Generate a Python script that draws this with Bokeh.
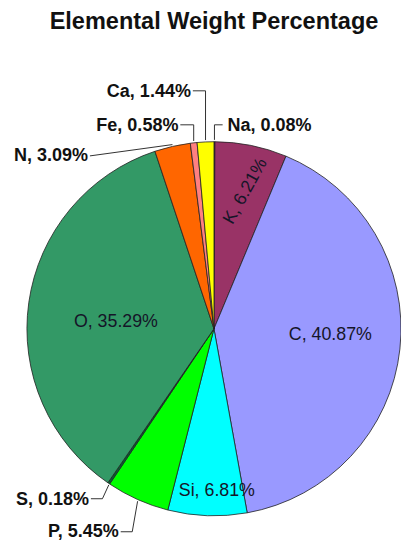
import math
from bokeh.plotting import figure
from bokeh.models import Range1d
from bokeh.core.properties import value
from bokeh.embed import file_html
from bokeh.resources import INLINE

# ---- data ----
elements = ["Na", "K", "C", "Si", "P", "S", "O", "N", "Fe", "Ca"]
percents = [0.08, 6.21, 40.87, 6.81, 5.45, 0.18, 35.29, 3.09, 0.58, 1.44]
colors = ["#660066", "#993366", "#9999FF", "#00FFFF", "#00FF00",
          "#006633", "#339966", "#FF6600", "#FF8080", "#FFFF00"]
title_text = "Elemental Weight Percentage"

# ---- layout (reference pixel coordinates; y grows downward) ----
W, H = 401, 540
REF_W, REF_H = 417, 556
CX, CY, R = 222, 338, 194.5

def Y(iy):
    return REF_H - iy

# inside labels: x, y, rotation (deg)
inside = {"K": (254, 196, 61), "C": (343, 343, 0), "O": (120, 330, 0), "Si": (225, 504, 0)}
# outside labels: text anchor x, y, align, elbow points
outside = {
    "Na": (236, 128, "left", [(231, 128)]),
    "Ca": (198, 93, "right", [(200, 93)]),
    "Fe": (185, 128, "right", [(187, 128)]),
    "N":  (91, 159, "right", [(93, 160)]),
    "S":  (92, 513, "right", [(94, 513), (106, 513)]),
    "P":  (123, 546, "right", [(125, 547), (137, 547)]),
}

labels = [f"{e}, {v:.2f}%" for e, v in zip(elements, percents)]
total = sum(percents)
starts, ends, mids = [], [], []
cum = 0.0
for v in percents:
    a0 = cum / total
    cum += v
    a1 = cum / total
    starts.append(math.pi / 2 - 2 * math.pi * a0)
    ends.append(math.pi / 2 - 2 * math.pi * a1)
    mids.append(math.pi / 2 - 2 * math.pi * (a0 + a1) / 2)

p = figure(width=W, height=H, output_backend="svg", toolbar_location=None,
           x_range=Range1d(0, REF_W), y_range=Range1d(0, REF_H),
           min_border=0)
p.axis.visible = False
p.grid.visible = False
p.outline_line_color = None
p.background_fill_color = "white"

# leader lines (drawn below pie)
for i, e in enumerate(elements):
    if e in outside:
        tx, ty, al, elbows = outside[e]
        ex = CX + R * math.cos(mids[i])
        ey = CY - R * math.sin(mids[i])
        if e in ("Na", "Ca", "Fe"):
            pts = [elbows[0], (ex, elbows[0][1]), (ex, ey)]
        else:
            pts = list(elbows) + [(ex, ey)]
        p.line([q[0] for q in pts], [Y(q[1]) for q in pts], line_color="#333333", line_width=1)

p.wedge(x=CX, y=Y(CY), radius=R, start_angle=starts, end_angle=ends,
        direction="clock", fill_color=colors, line_color="#222222", line_width=0.8)

font = value("Liberation Sans")
for i, e in enumerate(elements):
    if e in inside:
        x, y, rot = inside[e]
        p.text(x=[x], y=[Y(y)], text=[labels[i]], angle=[math.radians(rot)],
               text_align="center", text_baseline="middle", text_font=font,
               text_font_size="17.8px", text_color="#151528")
    if e in outside:
        tx, ty, al, _ = outside[e]
        p.text(x=[tx], y=[Y(ty)], text=[labels[i]], text_align=al,
               text_baseline="middle", text_font=font, text_font_size="18px",
               text_font_style="bold", text_color="#111111")

p.text(x=[222], y=[Y(21)], text=[title_text], text_align="center",
       text_baseline="middle", text_font=font, text_font_size="23.5px",
       text_font_style="bold", text_color="#111111")

open("out.html", "w").write(file_html(p, INLINE))
